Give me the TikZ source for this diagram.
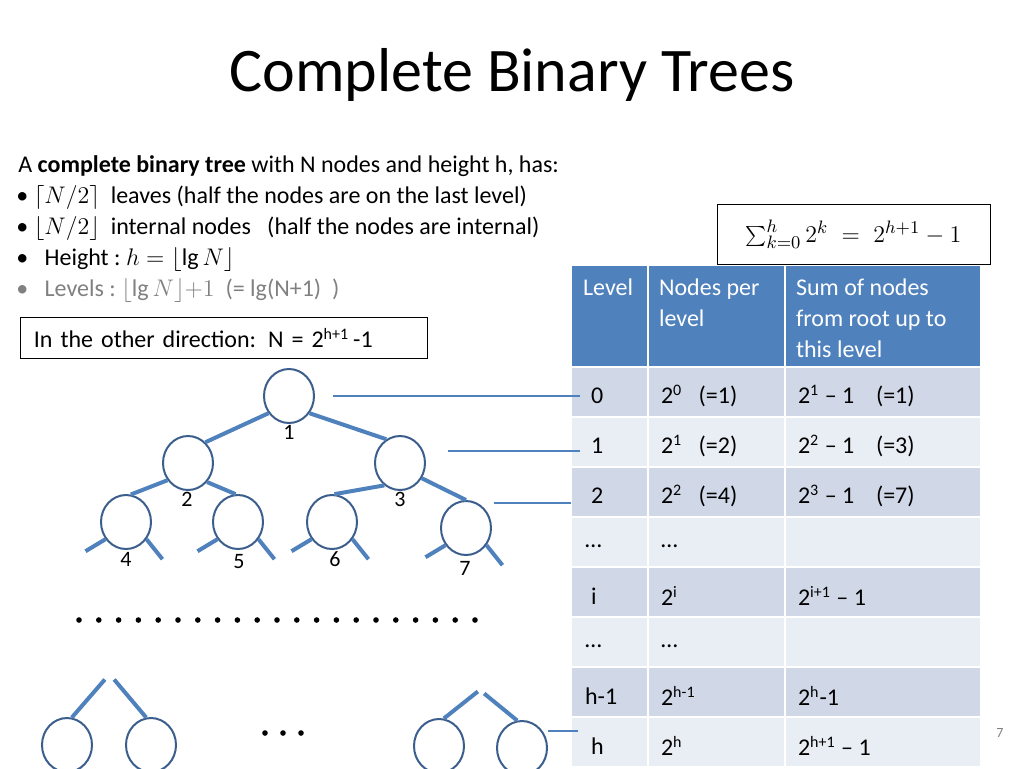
\documentclass[tikz,border=0pt]{standalone}
\usepackage{fontspec}
\setmainfont{Carlito}
\usetikzlibrary{shapes.geometric}
\definecolor{hdrblue}{HTML}{4F81BD}
\definecolor{rowdark}{HTML}{D0D8E8}
\definecolor{rowlight}{HTML}{E9EDF4}
\definecolor{ringblue}{HTML}{3B5E8C}
\tikzset{
  treenode/.style={draw=ringblue,line width=1pt,ellipse,minimum width=25pt,minimum height=27pt,inner sep=0pt},
  edge/.style={draw=hdrblue,line width=2pt},
  levelline/.style={draw=hdrblue,line width=0.6pt},
  cell/.style={anchor=west,font=\fontsize{12}{15.5}\selectfont,align=left},
  txt/.style={anchor=west,font=\fontsize{12}{14}\selectfont,inner sep=0pt},
  lbl/.style={font=\fontsize{11}{12}\selectfont,inner sep=0pt}
}
\begin{document}
\begin{tikzpicture}[x=0.5pt,y=-0.5pt]
\useasboundingbox (0,0) rectangle (1024,768);
\node[font=\fontsize{31}{34}\selectfont] (title) at (512,75) {Complete Binary Trees};
% text block
\node[txt] (l1) at (18,166) {A \textbf{complete binary tree} with N nodes and height h, has:};
\node[txt] (l2) at (16,197) {\textbullet\ $\lceil N/2\rceil$\ \ leaves (half the nodes are on the last level)};
\node[txt] (l3) at (16,228) {\textbullet\ $\lfloor N/2\rfloor$\ \ internal nodes\ \ \ (half the nodes are internal)};
\node[txt] (l4) at (16,259) {\textbullet\ \ \ Height :\ $h=\lfloor \lg N\rfloor$};
\node[txt,text=gray] (l5) at (16,290) {\textbullet\ \ \ Levels :\ $\lfloor \lg N\rfloor{+}1$\ \ (= lg(N+1)\ \ )};
\node[draw,anchor=west,minimum width=203.5pt,minimum height=20.5pt,inner xsep=6pt,font=\fontsize{12}{14}\selectfont,align=left,text width=190pt] (other) at (20,338) {In the other direction: N = 2\textsuperscript{h+1}\,-1};
\node[draw,minimum width=136.5pt,minimum height=30pt,font=\fontsize{13}{15}\selectfont] (sum) at (853.5,234) {$\sum_{k=0}^{h} 2^k \;=\; 2^{h+1}-1$};
% table
\fill[hdrblue] (572,266) rectangle (980,366);
\foreach \r/\c in {0/rowdark,1/rowlight,2/rowdark,3/rowlight,4/rowdark,5/rowlight,6/rowdark,7/rowlight}
  \fill[\c] (572,368+50*\r) rectangle (980,416+50*\r);
\draw[white,line width=1pt] (648,266) -- (648,768) (785,266) -- (785,768);
\node[cell,text=white,anchor=north west] (h1) at (576,272) {Level};
\node[cell,text=white,anchor=north west] (h2) at (652,272) {Nodes per\\level};
\node[cell,text=white,anchor=north west] (h3) at (789,272) {Sum of nodes\\from root up to\\this level};
\node[cell] (r0a) at (584,396) {0};
\node[cell] (r0b) at (654,396) {2\textsuperscript{0}\ \ \ (=1)};
\node[cell] (r0c) at (791,396) {2\textsuperscript{1} -- 1\ \ \ \ (=1)};
\node[cell] (r1a) at (584,446) {1};
\node[cell] (r1b) at (654,446) {2\textsuperscript{1}\ \ \ (=2)};
\node[cell] (r1c) at (791,446) {2\textsuperscript{2} -- 1\ \ \ \ (=3)};
\node[cell] (r2a) at (584,496) {2};
\node[cell] (r2b) at (654,496) {2\textsuperscript{2}\ \ \ (=4)};
\node[cell] (r2c) at (791,496) {2\textsuperscript{3} -- 1\ \ \ \ (=7)};
\node[cell] (r3a) at (578,546) {\dots};
\node[cell] (r3b) at (654,546) {\dots};
\node[cell] (r4a) at (584,596) {i};
\node[cell] (r4b) at (654,596) {2\textsuperscript{i}};
\node[cell] (r4c) at (791,596) {2\textsuperscript{i+1} -- 1};
\node[cell] (r5a) at (578,646) {\dots};
\node[cell] (r5b) at (654,646) {\dots};
\node[cell] (r6a) at (578,696) {h-1};
\node[cell] (r6b) at (654,696) {2\textsuperscript{h-1}};
\node[cell] (r6c) at (791,696) {2\textsuperscript{h}-1};
\node[cell] (r7a) at (584,746) {h};
\node[cell] (r7b) at (654,746) {2\textsuperscript{h}};
\node[cell] (r7c) at (791,746) {2\textsuperscript{h+1} -- 1};
\node[font=\fontsize{7}{8}\selectfont,text=gray] (pg) at (1000,733) {7};
% tree
\node[treenode] (n1) at (289,396) {};
\node[treenode] (n2) at (188,463) {};
\node[treenode] (n3) at (400,463) {};
\node[treenode] (n4) at (126,522) {};
\node[treenode] (n5) at (238,522) {};
\node[treenode] (n6) at (332,522) {};
\node[treenode] (n7) at (466,528) {};
\foreach \n/\x/\y in {1/289/432,2/187/499,3/400/499,4/126/559,5/239/562,6/335/559,7/465/568}
  \node[lbl] (t\n) at (\x,\y) {\n};
\draw[edge] (n1.-140) -- (n2.50);
\draw[edge] (n1.-40) -- (n3.120);
\draw[edge] (n2.-140) -- (n4.80);
\draw[edge] (n2.-45) -- (n5.95);
\draw[edge] (n3.-125) -- (n6.85);
\draw[edge] (n3.-35) -- (n7.90);
\foreach \n in {4,5,6,7} {
  \draw[edge] (n\n.-140) -- ++(-20,12);
  \draw[edge] (n\n.-40) -- ++(16,20);
}
\foreach \i in {0,...,20} \fill (79+19.8*\i,620) circle (2.8);
\node[treenode] (b1) at (67,745) {};
\node[treenode] (b2) at (151,745) {};
\node[treenode] (b3) at (439,746) {};
\node[treenode] (b4) at (522,748) {};
\draw[edge] (b1.80) -- ++(33,-38);
\draw[edge] (b2.100) -- ++(-32,-38);
\draw[edge] (b3.80) -- ++(34,-27);
\draw[edge] (b4.100) -- ++(-33,-27);
\foreach \i in {0,1,2} \fill (265+18*\i,733) circle (2.8);
% level guides
\coordinate (g0) at (580,396);
\coordinate (g1) at (580,451);
\coordinate (g2) at (571,503);
\coordinate (g3) at (578,731);
\draw[levelline] (333,396) -- (g0);
\draw[levelline] (448,451) -- (g1);
\draw[levelline] (494,503) -- (g2);
\draw[levelline] (b4.east |- g3) -- (g3);
\end{tikzpicture}
\end{document}
